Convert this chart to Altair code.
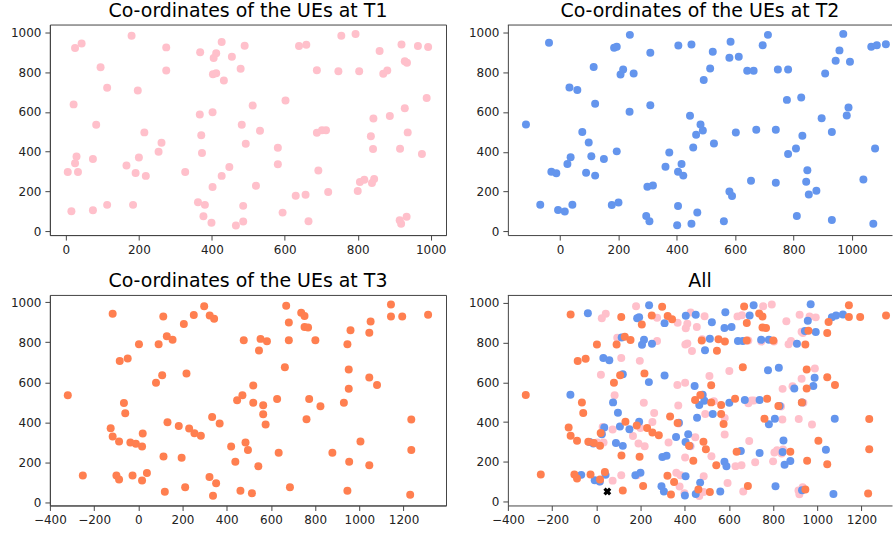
import altair as alt
import pandas as pd

# ---------------- data ----------------
t1_x = [180, 43, 25, 275, 368, 427, 412, 405, 455, 490, 95, 275, 403, 412, 433, 479, 113, 197, 21, 402,
        367, 512, 83, 215, 482, 371, 262, 493, 254, 373, 29, 25, 74, 200, 166, 448, 5, 33, 191, 219,
        327, 427, 402, 15, 74, 113, 184, 362, 381, 486, 377, 399, 466, 486,
        755, 794, 639, 659, 860, 920, 965, 993, 929, 935, 688, 747, 804, 870, 881, 602, 989, 929, 843, 888,
        532, 688, 702, 713, 836, 937, 581, 842, 916, 976, 581, 692, 521, 806, 818, 839, 845, 800, 630, 657,
        719, 594, 665, 915, 919, 934]
t1_y = [983, 945, 922, 925, 900, 952, 895, 872, 878, 933, 825, 808, 790, 795, 758, 817, 722, 708, 638, 598,
        587, 632, 535, 497, 535, 483, 445, 440, 400, 393, 375, 342, 363, 370, 330, 323, 297, 297, 292, 278,
        297, 278, 222, 100, 105, 132, 132, 145, 132, 127, 75, 42, 28, 48,
        983, 992, 932, 938, 907, 940, 932, 927, 855, 848, 810, 805, 805, 792, 808, 657, 670, 618, 567, 580,
        505, 495, 508, 508, 478, 497, 420, 413, 415, 388, 337, 305, 228, 247, 258, 242, 262, 202, 178, 183,
        197, 93, 50, 55, 37, 72]

t2_x = [-38, 239, 185, 194, 309, 405, 450, 115, 216, 207, 252, 32, 59, 120, 238, 309, -117, 76, 98, 36,
        25, 107, 150, 194, 374, 361, 416, -30, -13, 89, 120, 404, 422, 299, 318, -68, -7, 16, 42, 177,
        200, 295, 306, 404, 401, 450, 445, 456,
        523, 584, 580, 612, 514, 492, 641, 663, 712, 694, 746, 781, 970, 957, 944, 993, 908, 1066, 1085, 1116,
        777, 826, 988, 982, 896, 931, 481, 489, 466, 602, 672, 739, 830, 527, 808, 781, 1079, 847, 843, 852,
        878, 654, 739, 580, 589, 1039, 470, 561, 811, 931, 1073]
t2_y = [948, 988, 923, 928, 898, 935, 940, 826, 814, 789, 794, 723, 711, 641, 601, 634, 537, 499, 447, 372,
        338, 377, 364, 402, 396, 325, 339, 299, 292, 294, 280, 299, 280, 224, 230, 134, 107, 100, 134, 132,
        145, 77, 50, 127, 30, 38, 581, 422,
        903, 953, 873, 878, 819, 761, 808, 808, 988, 936, 814, 814, 993, 910, 858, 853, 794, 928, 936, 941,
        661, 673, 623, 582, 569, 499, 537, 507, 486, 497, 511, 511, 481, 441, 416, 389, 416, 307, 249, 185,
        204, 254, 244, 200, 177, 260, 95, 50, 77, 57, 38]

t3_x = [298, -116, 113, 251, 323, 343, 206, 129, 155, 3, 92, -84, -48, 108, 218, 80, -319, -65, -59, 447,
        471, -125, -116, -87, -36, -11, 17, 20, 132, 183, 230, 254, 283, 334, 368, 420, 439, 114, 196, -251,
        -99, -87, -26, 17, 39, 120, 212, 322, 352, 338, 462,
        669, 737, 752, 681, 752, 768, 477, 553, 582, 546, 681, 801, 663, 520, 520, 565, 565, 576, 628, 773,
        824, 761, 485, 496, 543, 635, 514, 686, 878, 930, 952, 952, 946, 960, 1051, 1045, 1045, 1080, 1143, 1143,
        1194, 1311, 1005, 954, 1045, 946, 1235, 1235, 1230]
t3_y = [980, 942, 929, 936, 934, 917, 891, 830, 813, 790, 790, 707, 719, 636, 645, 598, 536, 498, 446, 511,
        536, 372, 331, 306, 301, 294, 281, 345, 402, 383, 370, 347, 334, 428, 395, 281, 205, 231, 225, 136,
        136, 116, 136, 111, 149, 55, 78, 129, 98, 35, 60,
        982, 947, 931, 899, 876, 874, 810, 817, 805, 759, 810, 810, 676, 585, 499, 486, 441, 390, 517, 517,
        481, 417, 301, 263, 182, 250, 48, 78, 250, 499, 569, 665, 790, 860, 904, 848, 625, 587, 988, 929,
        929, 937, 306, 205, 187, 60, 415, 263, 40]

bs_x = [50]
bs_y = [50]

titles = ["Co-ordinates of the UEs at T1", "Co-ordinates of the UEs at T2",
          "Co-ordinates of the UEs at T3", "All"]
series = ["T1", "T2", "T3"]
colors = ["pink", "cornflowerblue", "coral"]
y_ticks = [0, 200, 400, 600, 800, 1000]
x_ticks_a = [0, 200, 400, 600, 800, 1000]
x_ticks_b = [-400, -200, 0, 200, 400, 600, 800, 1000, 1200]

FONT = "DejaVu Sans"
FRAME = "#444444"

d1 = pd.DataFrame({"x": t1_x, "y": t1_y, "s": "T1"})
d2 = pd.DataFrame({"x": t2_x, "y": t2_y, "s": "T2"})
d3 = pd.DataFrame({"x": t3_x, "y": t3_y, "s": "T3"})
d_all = pd.concat([d1, d2, d3], ignore_index=True)
d_bs = pd.DataFrame({"x": bs_x, "y": bs_y})

W_L, W_R, H = 397, 385, 211


def panel(data, title, xdom, ydom, xticks, width, color, open_right, extra=None):
    xs = alt.Scale(domain=xdom, nice=False, zero=False)
    ys = alt.Scale(domain=ydom, nice=False, zero=False)
    x_enc = alt.X("x:Q", scale=xs, axis=alt.Axis(values=xticks, title=None, format="d"))
    y_enc = alt.Y("y:Q", scale=ys, axis=alt.Axis(values=y_ticks, title=None, format="d"))
    pts = alt.Chart(data).mark_circle(size=64, opacity=1, clip=True).encode(
        x=x_enc, y=y_enc, color=color)
    layers = [pts]
    if extra is not None:
        layers.append(alt.Chart(extra).mark_point(shape="cross", angle=45, filled=True,
                                                   size=64, color="black", opacity=1).encode(
            x=alt.X("x:Q", scale=xs), y=alt.Y("y:Q", scale=ys)))
    if open_right:
        layers.append(alt.Chart(pd.DataFrame({"k": [0]})).mark_rule(color=FRAME, strokeWidth=1).encode(
            x=alt.value(0), x2=alt.value(width), y=alt.value(0.5)))
        view = alt.ViewBackground(strokeOpacity=0)
    else:
        view = alt.ViewBackground(stroke=FRAME, strokeWidth=1)
    return alt.layer(*layers).properties(
        width=width, height=H, view=view,
        title=alt.TitleParams(title, fontSize=19, font=FONT, fontWeight="normal",
                              color="black", offset=4))


p1 = panel(d1, titles[0], [-44, 1042], [-20, 1040], x_ticks_a, W_L, alt.value(colors[0]), False)
p2 = panel(d2, titles[1], [-179, 1137], [-19, 1040], x_ticks_a, W_R, alt.value(colors[1]), True)
p3 = panel(d3, titles[2], [-400, 1392], [-13, 1036], x_ticks_b, W_L, alt.value(colors[2]), False)
p4 = panel(d_all, titles[3], [-400, 1338], [-20, 1040], x_ticks_b, W_R,
           alt.Color("s:N", scale=alt.Scale(domain=series, range=colors), legend=None),
           True, extra=d_bs)

chart = alt.vconcat(
    alt.hconcat(p1, p2, spacing=21),
    alt.hconcat(p3, p4, spacing=21),
    spacing=15,
).properties(
    padding={"left": 9, "top": 0, "right": 0, "bottom": 0},
    background="white",
).configure_axis(
    domainColor=FRAME, tickColor=FRAME, tickSize=5, domainWidth=1, tickWidth=1,
    labelFont=FONT, labelFontSize=12, labelColor="#222222", labelPadding=4, grid=False,
    labelOverlap=False, labelFlush=False,
).configure_view(stroke=FRAME, strokeWidth=1)

chart.save("out.html", embed_options={"renderer": "svg", "actions": False})
